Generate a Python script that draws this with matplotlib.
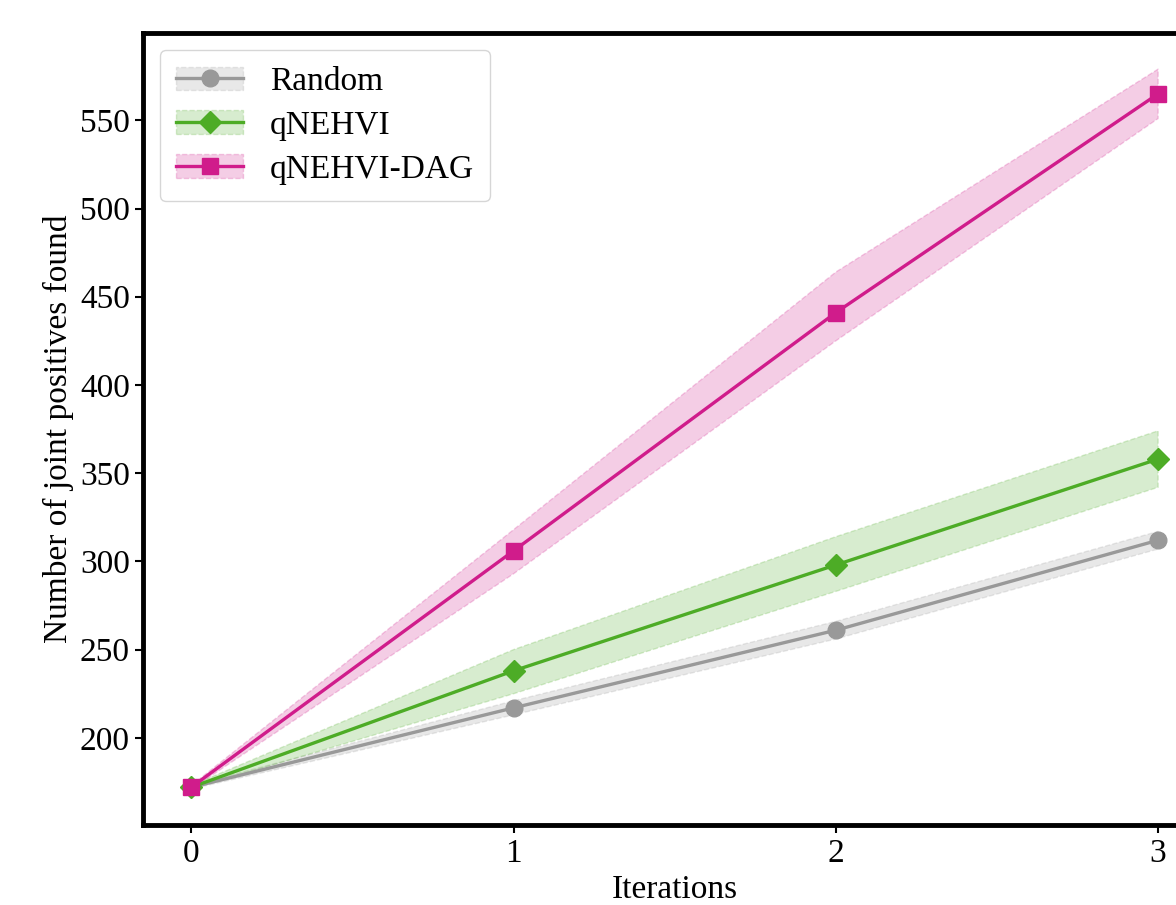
import matplotlib
matplotlib.use("Agg")
import matplotlib.pyplot as plt
from matplotlib.patches import Patch

plt.rcParams['font.family'] = ['Liberation Serif', 'DejaVu Serif']

iterations = [0, 1, 2, 3]
labels = ["Random", "qNEHVI", "qNEHVI-DAG"]

random_mean = [172, 217, 261, 312]
random_lo = [171, 213, 256, 307]
random_hi = [173, 221, 266, 317]
qnehvi_mean = [172, 238, 298, 358]
qnehvi_lo = [171, 225, 283, 342]
qnehvi_hi = [173, 250, 314, 374]
dag_mean = [172, 306, 441, 565]
dag_lo = [171, 293, 425, 551]
dag_hi = [173, 318, 464, 579]

colors = ["#999999", "#4dac26", "#d01c8b"]
markers = ["o", "D", "s"]
msizes = [12, 11, 12]

fig = plt.figure(figsize=(11.76, 9.05), dpi=100)
ax = fig.add_axes([0.1216, 0.0884, 0.9043, 0.875])

handles = []
for mean, lo, hi, c, m, ms, lab in zip([random_mean, qnehvi_mean, dag_mean],
                                       [random_lo, qnehvi_lo, dag_lo],
                                       [random_hi, qnehvi_hi, dag_hi],
                                       colors, markers, msizes, labels):
    ax.fill_between(iterations, lo, hi, facecolor=c, alpha=0.22,
                    edgecolor=c, linestyle='--', linewidth=1)
    line, = ax.plot(iterations, mean, color=c, marker=m, markersize=ms,
                    linewidth=2.4, label=lab)
    patch = Patch(facecolor=c, alpha=0.22, edgecolor=c, linestyle='--')
    handles.append((patch, line))

ax.set_xticks(iterations)
ax.set_yticks(range(200, 551, 50))
ax.tick_params(labelsize=24, width=1.5, length=6)
for s in ax.spines.values():
    s.set_linewidth(3.5)

ax.set_xlabel("Iterations", fontsize=24)
ax.set_ylabel("Number of joint positives found", fontsize=24)

ax.legend(handles, labels, loc="upper left", fontsize=24,
          handlelength=2.0, borderpad=0.5, labelspacing=0.4)

fig.savefig("out.png", dpi=100)
